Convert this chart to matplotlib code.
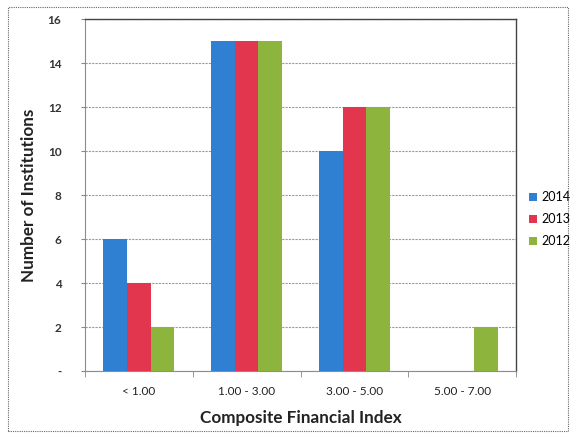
import matplotlib
matplotlib.use("Agg")
import matplotlib.pyplot as plt
import numpy as np
from matplotlib.patches import Rectangle

categories = ["< 1.00", "1.00 - 3.00", "3.00 - 5.00", "5.00 - 7.00"]
series_names = ["2014", "2013", "2012"]
v2014 = [6, 15, 10, 0]
v2013 = [4, 15, 12, 0]
v2012 = [2, 15, 12, 2]
yticks = [0, 2, 4, 6, 8, 10, 12, 14, 16]
ytick_labels = ["-", "2", "4", "6", "8", "10", "12", "14", "16"]
colors = ["#2F7FD2", "#E2364E", "#8DB43C"]

plt.rcParams['font.family'] = ['Lato', 'DejaVu Sans']

fig = plt.figure(figsize=(5.76, 4.37), dpi=100)
L, R, T, B = 85, 516, 19, 371
ax = fig.add_axes([L/576, 1-B/437, (R-L)/576, (B-T)/437])

x = np.arange(len(categories))
w = 0.22
for i, (vals, name) in enumerate(zip([v2014, v2013, v2012], series_names)):
    ax.bar(x + (i-1)*w, vals, width=w, color=colors[i], label=name, zorder=3)

ax.set_xlim(-0.5, len(categories)-0.5)
ax.set_ylim(0, 16)
ax.set_yticks(yticks)
ax.set_yticklabels(ytick_labels, fontsize=8.5, fontweight='bold', color='#333333')
ax.set_xticks(x)
ax.set_xticklabels(categories, fontsize=8.5, color='#222222')
ax.set_xticks(np.arange(len(categories)+1) - 0.5, minor=True)
ax.tick_params(axis='x', which='major', length=0, pad=11)
ax.tick_params(axis='x', which='minor', length=4, direction='out', color='#888888')
ax.tick_params(axis='y', length=3, direction='out', color='#888888', pad=14)
ax.yaxis.grid(True, color='#9a9aaa', linestyle=(0, (2, 1)), linewidth=0.8, zorder=0)
for s in ['left', 'bottom']:
    ax.spines[s].set_color('#8888aa')
for s in ['top', 'right']:
    ax.spines[s].set_color('#444444')
    ax.spines[s].set_linewidth(1.0)

ax.set_xlabel("Composite Financial Index", fontsize=12.3, fontweight='bold', color='#222222', labelpad=9)
ax.set_ylabel("Number of Institutions", fontsize=12.3, fontweight='bold', color='#222222', labelpad=8)

leg = fig.legend(loc='center left', bbox_to_anchor=(529/576, 1-219/437), frameon=False,
                 fontsize=9, handlelength=0.6, handleheight=0.6, handletextpad=0.4,
                 labelspacing=0.8, borderpad=0, borderaxespad=0)

fig.patches.append(Rectangle((8/576, 6/437), 560/576, 424/437, transform=fig.transFigure,
                             fill=False, edgecolor='#666666', linestyle=(0, (1, 1)), linewidth=0.8))

fig.savefig("out.png", dpi=100)
